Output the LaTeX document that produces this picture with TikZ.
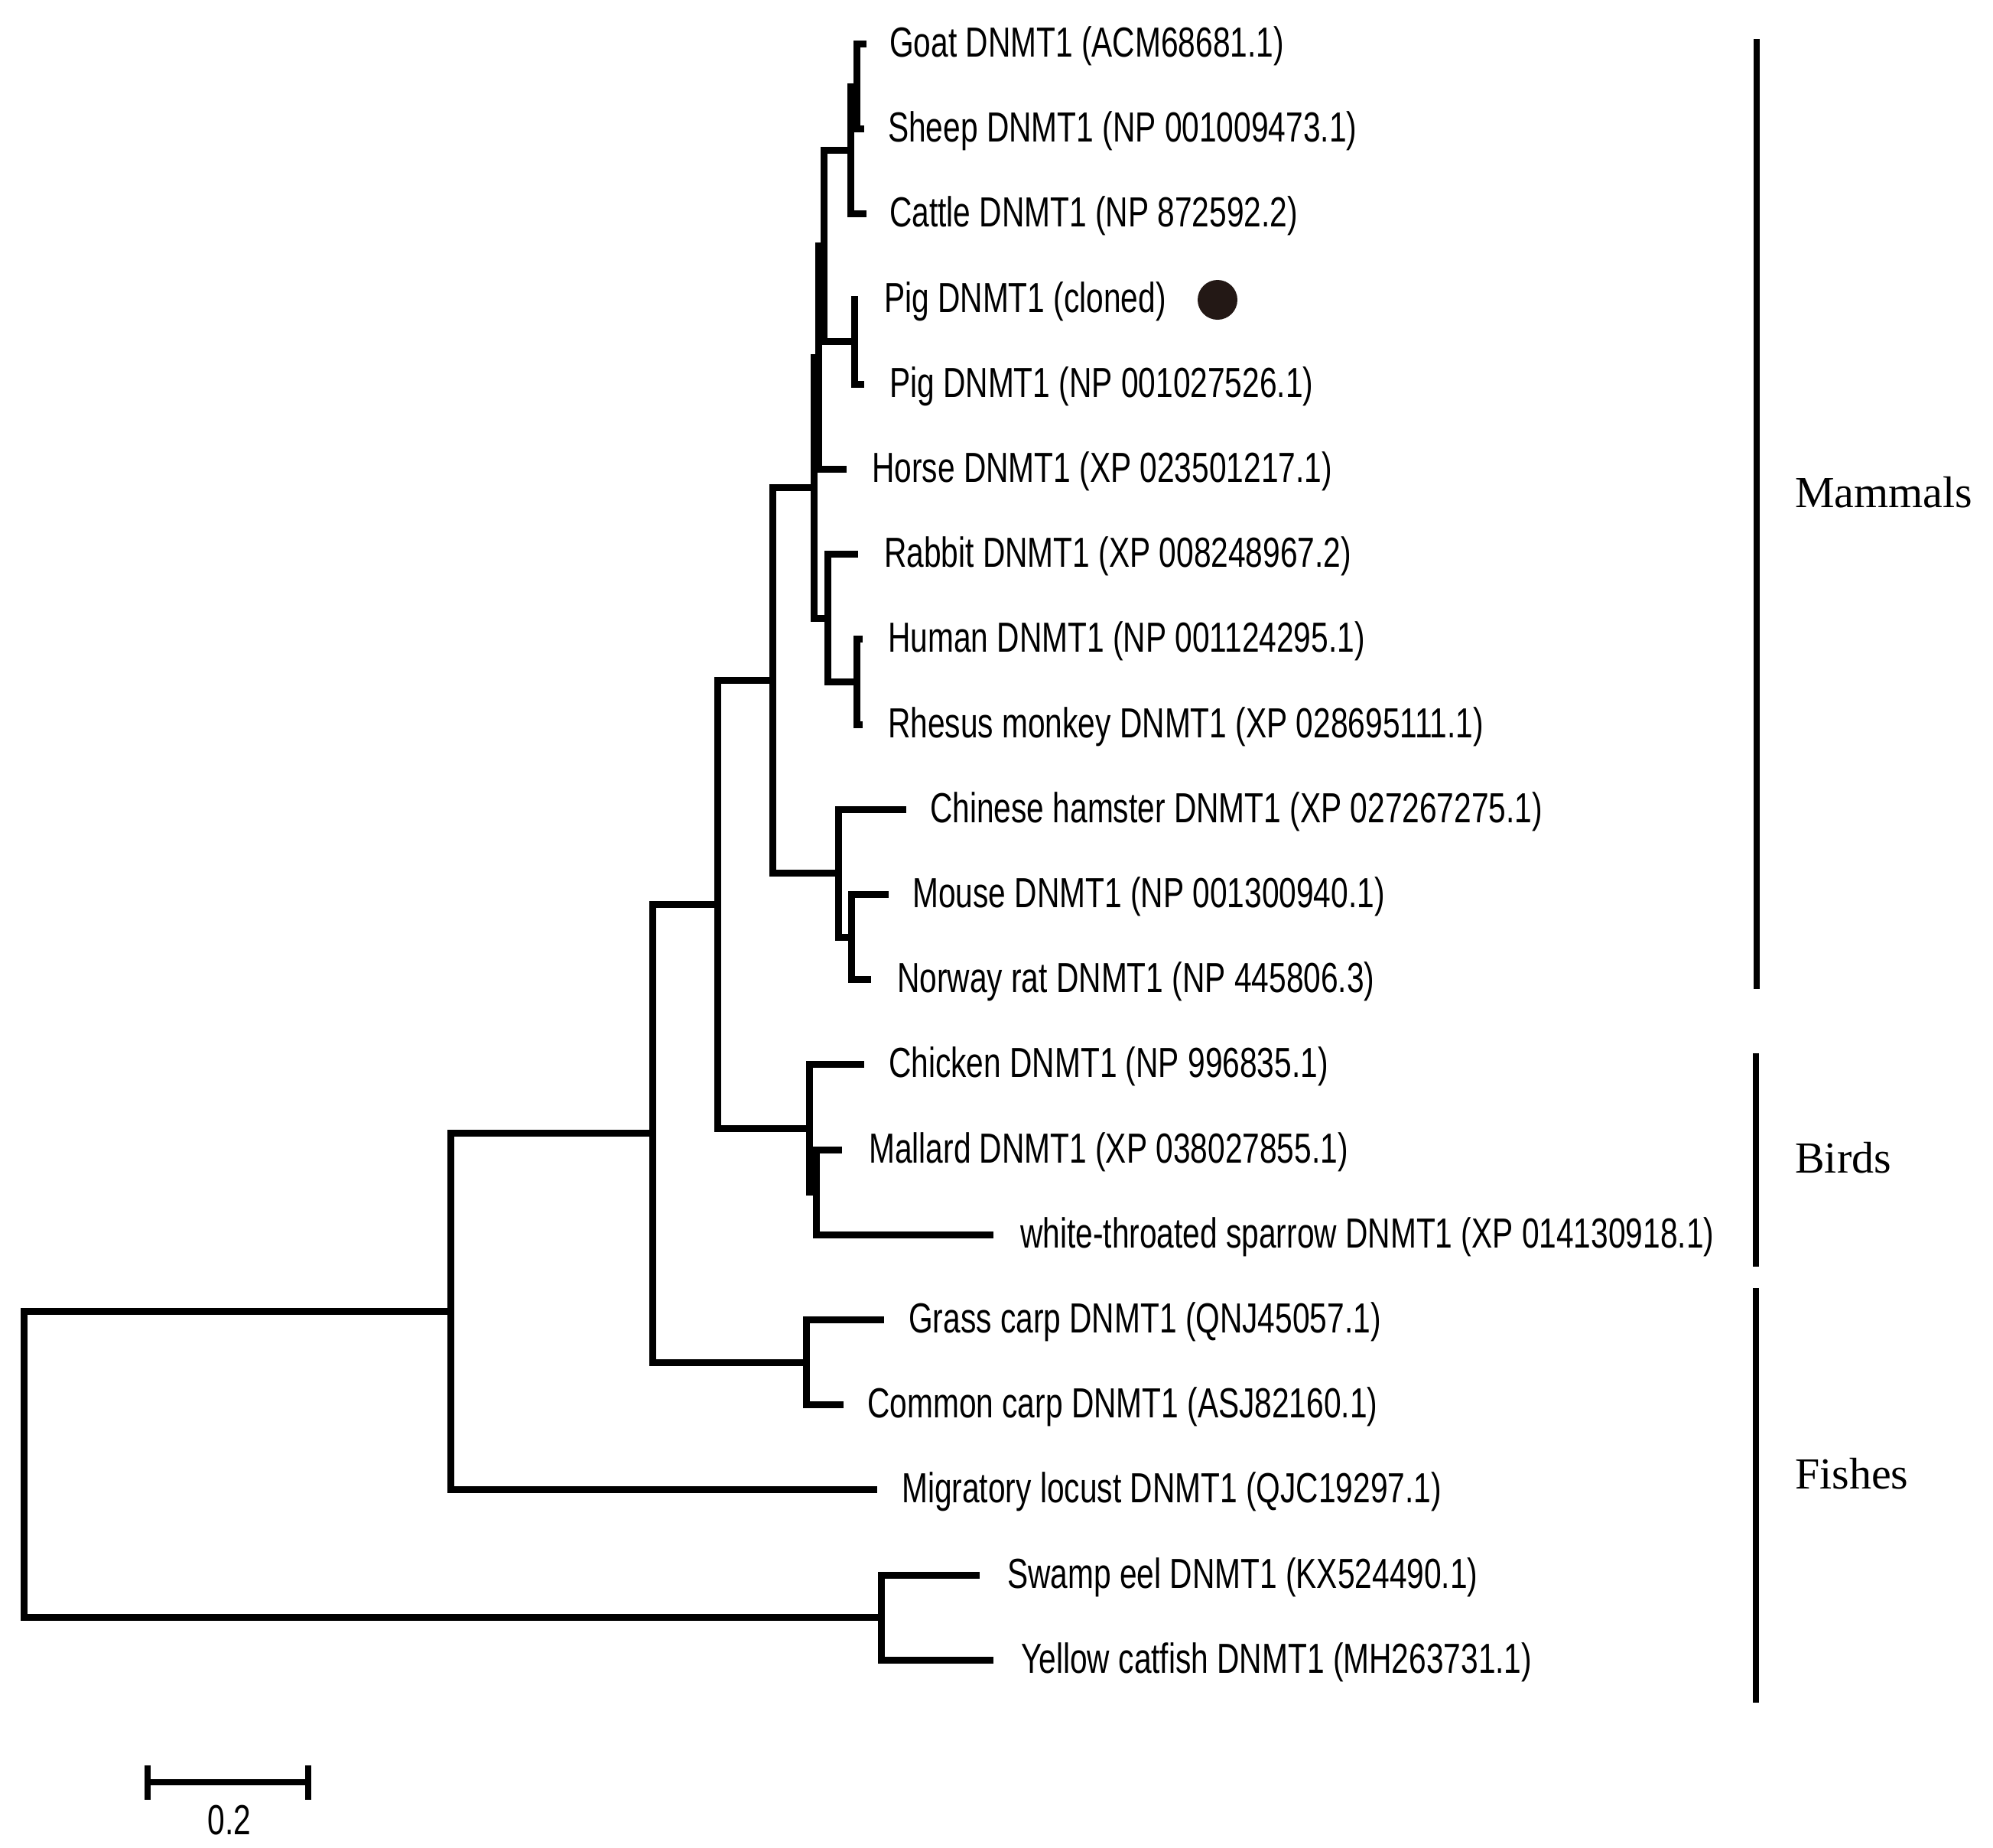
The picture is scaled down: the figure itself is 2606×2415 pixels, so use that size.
\documentclass[tikz,border=0pt]{standalone}
\usepackage{fontspec}
\newfontfamily\narrowsans[FakeStretch=0.74]{Liberation Sans}
\newfontfamily\cladeserif{Liberation Serif}
\definecolor{dotcol}{RGB}{35,24,21}
\begin{document}
\begin{tikzpicture}[x=1pt,y=-1pt,
  branch/.style={line width=9pt},
  lab/.style={anchor=base west, inner sep=0pt, font=\narrowsans\fontsize{55}{60}\selectfont},
  clade/.style={anchor=base west, inner sep=0pt, font=\cladeserif\fontsize{58}{64}\selectfont},
  cbar/.style={line width=8pt}]
\useasboundingbox (0,0) rectangle (2606,2415);
% leaves: tip coordinate + label
\newcommand{\leafnode}[5]{%
  \coordinate (t#1) at (#2,#3);
  \node[lab] (l#1) at (#4,#3+17) {#5};}
\leafnode{Goat}{1133}{57.5}{1163}{Goat DNMT1 (ACM68681.1)}
\leafnode{Sheep}{1130}{168.7}{1161}{Sheep DNMT1 (NP 001009473.1)}
\leafnode{Cattle}{1133}{279.9}{1163}{Cattle DNMT1 (NP 872592.2)}
\leafnode{PigC}{1122}{391.1}{1156}{Pig DNMT1 (cloned)}
\leafnode{PigNP}{1130}{502.3}{1163}{Pig DNMT1 (NP 001027526.1)}
\leafnode{Horse}{1107}{613.5}{1140}{Horse DNMT1 (XP 023501217.1)}
\leafnode{Rabbit}{1122}{724.7}{1156}{Rabbit DNMT1 (XP 008248967.2)}
\leafnode{Human}{1128}{835.9}{1161}{Human DNMT1 (NP 001124295.1)}
\leafnode{Rhesus}{1128}{947.1}{1161}{Rhesus monkey DNMT1 (XP 028695111.1)}
\leafnode{Hamster}{1185}{1058.3}{1216}{Chinese hamster DNMT1 (XP 027267275.1)}
\leafnode{Mouse}{1162}{1169.5}{1193}{Mouse DNMT1 (NP 001300940.1)}
\leafnode{Rat}{1139}{1280.7}{1173}{Norway rat DNMT1 (NP 445806.3)}
\leafnode{Chicken}{1130}{1391.9}{1162}{Chicken DNMT1 (NP 996835.1)}
\leafnode{Mallard}{1101}{1503.1}{1136}{Mallard DNMT1 (XP 038027855.1)}
\leafnode{Sparrow}{1299}{1614.3}{1334}{white-throated sparrow DNMT1 (XP 014130918.1)}
\leafnode{Grass}{1156}{1725.5}{1188}{Grass carp DNMT1 (QNJ45057.1)}
\leafnode{Common}{1103}{1836.7}{1134}{Common carp DNMT1 (ASJ82160.1)}
\leafnode{Mig}{1147}{1947.9}{1179}{Migratory locust DNMT1 (QJC19297.1)}
\leafnode{Swamp}{1281}{2059.1}{1317}{Swamp eel DNMT1 (KX524490.1)}
\leafnode{Yellow}{1299}{2170.3}{1335}{Yellow catfish DNMT1 (MH263731.1)}
% internal nodes
\coordinate (root) at (31,1914.8);
\coordinate (nX) at (589,1714.9);
\coordinate (nFish) at (1152,2114.7);
\coordinate (nVert) at (853,1481.9);
\coordinate (nAmn) at (938,1182.6);
\coordinate (nCarp) at (1054,1781.1);
\coordinate (nMam) at (1010,889.8);
\coordinate (nBird) at (1058,1475.3);
\coordinate (nMS) at (1067,1558.7);
\coordinate (nB) at (1064,637.8);
\coordinate (nRod) at (1096,1141.7);
\coordinate (nMR) at (1113,1225.1);
\coordinate (nA) at (1070,467.5);
\coordinate (nRab) at (1082,808.1);
\coordinate (nHR) at (1120,891.5);
\coordinate (nRP) at (1077,321.6);
\coordinate (nRum) at (1112,196.5);
\coordinate (nGS) at (1120,113.1);
\coordinate (nPig) at (1117,446.7);
% branches
\foreach \p/\c in {root/nX, root/nFish, nX/nVert, nX/tMig, nFish/tSwamp, nFish/tYellow,
  nVert/nAmn, nVert/nCarp, nAmn/nMam, nAmn/nBird, nCarp/tGrass, nCarp/tCommon,
  nMam/nB, nMam/nRod, nBird/tChicken, nBird/nMS, nMS/tMallard, nMS/tSparrow,
  nB/nA, nB/nRab, nA/nRP, nA/tHorse, nRP/nRum, nRP/nPig, nRum/nGS, nRum/tCattle,
  nGS/tGoat, nGS/tSheep, nPig/tPigC, nPig/tPigNP, nRab/tRabbit, nRab/nHR,
  nHR/tHuman, nHR/tRhesus, nRod/tHamster, nRod/nMR, nMR/tMouse, nMR/tRat}
  \draw[branch] (\p) |- (\c);
% marker
\node[circle, fill=dotcol, minimum size=52pt, inner sep=0pt] (dot) at (1592,392) {};
% clade bars
\coordinate (mamT) at (2297,51);
\coordinate (mamB) at (2297,1293);
\coordinate (birT) at (2296,1377);
\coordinate (birB) at (2296,1656);
\coordinate (fisT) at (2296,1684);
\coordinate (fisB) at (2296,2226);
\draw[cbar] (mamT) -- (mamB);
\draw[cbar] (birT) -- (birB);
\draw[cbar] (fisT) -- (fisB);
\node[clade] (cMam) at (2347,663) {Mammals};
\node[clade] (cBir) at (2347,1533) {Birds};
\node[clade] (cFis) at (2347,1946) {Fishes};
% scale bar
\coordinate (sbL) at (193,2330);
\coordinate (sbR) at (403,2330);
\draw[line width=8pt] (sbL) -- (sbR);
\draw[line width=8pt] ([yshift=22.5pt]sbL) -- ([yshift=-22.5pt]sbL);
\draw[line width=8pt] ([yshift=22.5pt]sbR) -- ([yshift=-22.5pt]sbR);
\node[anchor=base, inner sep=0pt, font=\narrowsans\fontsize{55}{60}\selectfont] (sbT) at (300,2398) {0.2};
\end{tikzpicture}
\end{document}
